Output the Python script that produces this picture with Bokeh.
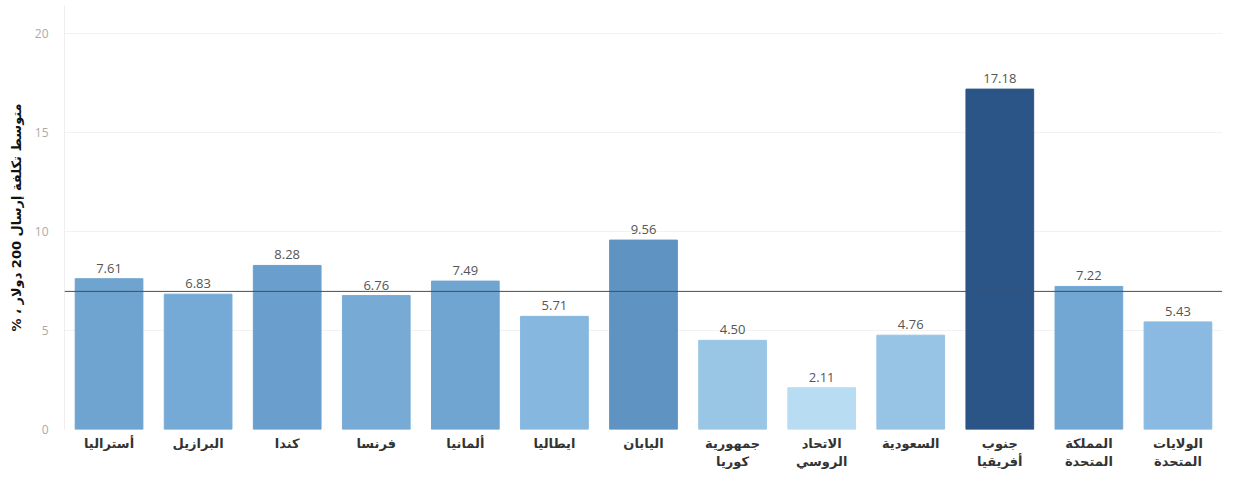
from bokeh.plotting import figure
from bokeh.models import ColumnDataSource, Span, FixedTicker, LabelSet
from bokeh.core.properties import value
from bokeh.embed import file_html
from bokeh.resources import INLINE

countries = ["أستراليا", "البرازيل", "كندا", "فرنسا", "ألمانيا", "ايطاليا", "اليابان",
             "جمهورية\nكوريا", "الاتحاد\nالروسي", "السعودية", "جنوب\nأفريقيا",
             "المملكة\nالمتحدة", "الولايات\nالمتحدة"]
costs = [7.61, 6.83, 8.28, 6.76, 7.49, 5.71, 9.56, 4.50, 2.11, 4.76, 17.18, 7.22, 5.43]
average_line = 6.97
y_ticks = [0, 5, 10, 15, 20]

bar_colors = ["#6fa3d0", "#76aad6", "#6a9fcd", "#77abd6", "#70a5d2", "#86b7df", "#5f93c2",
              "#9ac6e6", "#b8ddf3", "#97c3e5", "#2b5586", "#72a7d4", "#8abae1"]

src = ColumnDataSource(dict(
    x=countries, y=costs, color=bar_colors,
    label=[f"{v:.2f}" for v in costs],
))

p = figure(x_range=countries, y_range=(0, 21.4), width=1222, height=471,
           output_backend="svg", toolbar_location=None,
           min_border_left=64, min_border_right=0, min_border_top=5, min_border_bottom=41)
p.x_range.range_padding = 0
p.outline_line_color = None
p.background_fill_color = "white"

p.vbar(x="x", top="y", width=0.76, color="color", source=src)

labels = LabelSet(x="x", y="y", text="label", source=src, text_align="center",
                  text_baseline="bottom", y_offset=6, text_font=value("Open Sans"),
                  text_font_size="13px", text_color="#555555")
p.add_layout(labels)

p.add_layout(Span(location=average_line, dimension="width", line_color="#4d4d4d", line_width=1))

p.yaxis.ticker = FixedTicker(ticks=y_ticks)
p.yaxis.axis_line_color = "#eeeeee"
p.yaxis.major_tick_line_color = None
p.yaxis.minor_tick_line_color = None
p.yaxis.major_label_text_color = "#aaaaaa"
p.yaxis.major_label_text_font = "Open Sans"
p.yaxis.major_label_text_font_size = "12px"
p.yaxis.major_label_standoff = 10
p.yaxis.axis_label = "متوسط تكلفة إرسال 200 دولار ، %\u200f"
p.yaxis.axis_label_text_font = "DejaVu Sans"
p.yaxis.axis_label_text_font_style = "bold"
p.yaxis.axis_label_text_font_size = "13px"
p.yaxis.axis_label_text_color = "#111111"
p.yaxis.axis_label_standoff = 8

p.xaxis.axis_line_color = None
p.xaxis.major_tick_line_color = None
p.xaxis.minor_tick_line_color = None
p.xaxis.major_label_text_font = "DejaVu Sans"
p.xaxis.major_label_text_font_style = "bold"
p.xaxis.major_label_text_font_size = "13px"
p.xaxis.major_label_text_color = "#333333"
p.xaxis.major_label_standoff = 0

p.xgrid.grid_line_color = None
p.ygrid.grid_line_color = "#f2f2f2"

open("out.html", "w").write(file_html(p, INLINE))
